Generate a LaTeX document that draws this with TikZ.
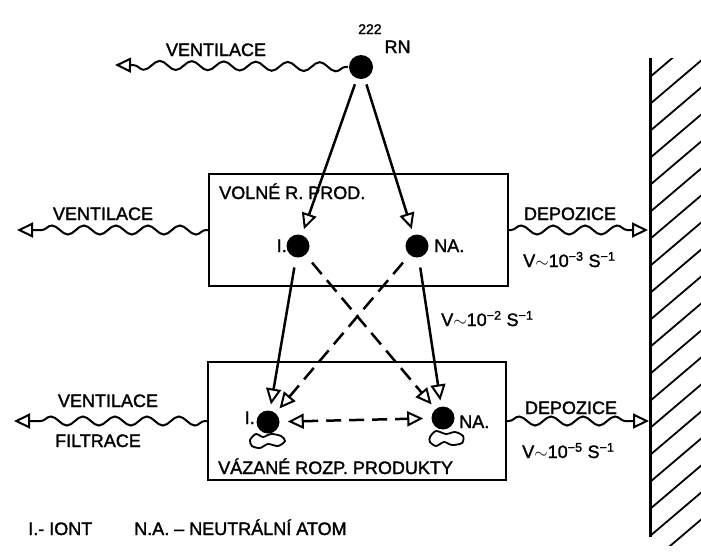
\documentclass[tikz,border=0pt]{standalone}
\usepackage{fontspec}
\setmainfont{Liberation Sans}[FakeBold=1.6]
\usetikzlibrary{arrows.meta,decorations.pathmorphing}

\tikzset{
  dot/.style={circle, fill=black, inner sep=0pt, minimum size=23pt},
  lbl/.style={inner sep=0pt, font=\fontsize{18}{20}\selectfont},
  wave/.style={decorate, decoration={snake, segment length=32pt, amplitude=4.5pt,
      pre length=2pt, post length=16pt}},
  dashline/.style={dash pattern=on 15pt off 8pt},
  blob/.style={line width=1.8pt},
}

\begin{document}
\begin{tikzpicture}[x=1pt, y=-1pt, line width=2.5pt,
    >={Triangle[open,length=16pt,width=15pt,line width=2pt]}]
    \useasboundingbox (0,0) rectangle (701,558);

    % boxes
    \node[draw, line width=2.2pt, minimum width=299pt, minimum height=112pt] (volne) at (358.5,230) {};
    \node[draw, line width=2.2pt, minimum width=298pt, minimum height=118pt] (vazane) at (357,421) {};

    % atoms
    \node[dot, minimum size=24pt] (rn) at (361,67) {};
    \node[dot] (iu) at (298,246) {};
    \node[dot] (nu) at (417,246) {};
    \node[dot] (il) at (268,422) {};
    \node[dot] (nl) at (443,418) {};

    \draw[blob] plot[smooth cycle] coordinates {(250,440) (256,434) (263,437) (271,434)
        (281,436) (285,441) (278,446) (268,444) (260,448) (252,446)};
    \draw[blob] plot[smooth cycle] coordinates {(430,437) (436,431) (446,434) (455,432)
        (463,436) (462,443) (452,445) (444,442) (436,446) (430,442)};

    % free ends
    \coordinate (v1) at (115,65);
    \coordinate (v2) at (17,230);
    \coordinate (v3) at (14,421);
    \coordinate (d1) at (648,230);
    \coordinate (d2) at (649,421);

    % transport
    \draw[->, shorten <=5pt, shorten >=5pt] (rn) -- (iu);
    \draw[->, shorten <=5pt, shorten >=5pt] (rn) -- (nu);
    \draw[->, shorten <=9pt, shorten >=5pt] (iu) -- (il);
    \draw[->, shorten <=9pt, shorten >=5pt] (nu) -- (nl);
    \draw[->, dashline, shorten <=9pt, shorten >=5pt] (iu) -- (nl);
    \draw[->, dashline, shorten <=9pt, shorten >=5pt] (nu) -- (il);
    \draw[<->, dashline, shorten <=7pt, shorten >=7pt] (il) -- (nl);

    \draw[->, wave, line width=2pt] (rn) -- (v1);
    \draw[->, wave, line width=2pt] (volne.west) -- (v2);
    \draw[->, wave, line width=2pt] (vazane.west) -- (v3);
    \draw[->, wave, line width=2pt] (volne.east) -- (d1);
    \draw[->, wave, line width=2pt] (vazane.east) -- (d2);

    % wall
    \draw[line width=3pt] (650,58) -- (650,537);
    \begin{scope}
        \clip (650,58) rectangle (701,545);
        \foreach \k in {0,...,19}
            \draw[line width=1.8pt] (650,50+27*\k) -- +(60,-51);
    \end{scope}

    % labels
    \node[lbl, anchor=base west] (rnlab) at (357,53)
        {\raisebox{19pt}{\fontsize{14}{14}\selectfont 222}\kern3pt RN};
    \node[lbl, anchor=base] (vent1) at (216,56) {VENTILACE};
    \node[lbl, anchor=base] (vent2) at (103,220) {VENTILACE};
    \node[lbl, anchor=base] (vent3) at (108,407) {VENTILACE};
    \node[lbl, anchor=base] (filt) at (98,447) {FILTRACE};
    \node[lbl, anchor=base west] (volnelab) at (218,199) {VOLNÉ R. PROD.};
    \node[lbl, anchor=base west] (vazanelab) at (217,474) {VÁZANÉ ROZP. PRODUKTY};
    \node[lbl, anchor=base east] (iulab) at (288,252) {I.};
    \node[lbl, anchor=base west] (nulab) at (433,252) {NA.};
    \node[lbl, anchor=base east] (illab) at (256,424) {I.};
    \node[lbl, anchor=base west] (nllab) at (458,428) {NA.};
    \node[lbl, anchor=base] (dep1) at (570,220) {DEPOZICE};
    \node[lbl, anchor=base west] (rate1) at (522,267) {V$\sim$10\textsuperscript{−3} S\textsuperscript{−1}};
    \node[lbl, anchor=base west] (rate2) at (440,326) {V$\sim$10\textsuperscript{−2} S\textsuperscript{−1}};
    \node[lbl, anchor=base] (dep2) at (571,414) {DEPOZICE};
    \node[lbl, anchor=base west] (rate3) at (521,458) {V$\sim$10\textsuperscript{−5} S\textsuperscript{−1}};
    \node[lbl, anchor=base west] (leg1) at (27,535) {I.- IONT};
    \node[lbl, anchor=base west] (leg2) at (133,535) {N.A. – NEUTRÁLNÍ ATOM};
\end{tikzpicture}
\end{document}
